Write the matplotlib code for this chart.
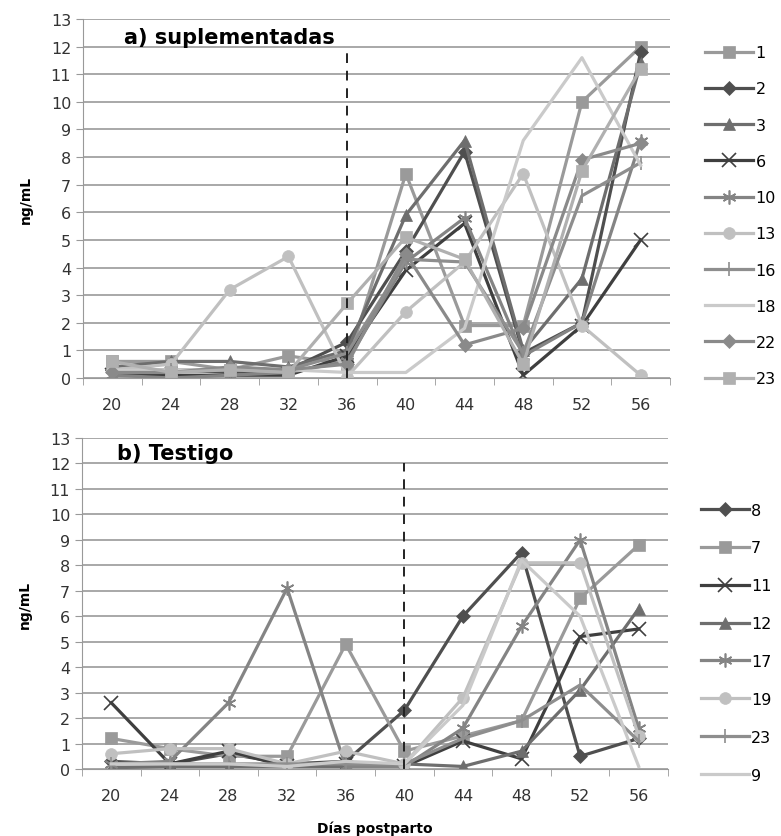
import matplotlib.pyplot as plt
import numpy as np

dias = [20, 24, 28, 32, 36, 40, 44, 48, 52, 56]

# a) suplementadas
sup_names = ['1', '2', '3', '6', '10', '13', '16', '18', '22', '23']
sup_1 = [0.6, 0.6, 0.3, 0.8, 0.5, 7.4, 1.9, 1.9, 10.0, 12.0]
sup_2 = [0.3, 0.3, 0.2, 0.3, 1.3, 4.6, 8.2, 0.9, 2.0, 11.8]
sup_3 = [0.4, 0.6, 0.6, 0.4, 1.0, 5.9, 8.6, 1.0, 3.6, 11.4]
sup_6 = [0.1, 0.1, 0.1, 0.1, 0.8, 3.9, 5.6, 0.1, 1.9, 5.0]
sup_10 = [0.1, 0.0, 0.1, 0.2, 0.6, 4.2, 5.8, 0.8, 2.0, 8.6]
sup_13 = [0.3, 0.5, 3.2, 4.4, 0.05, 2.4, 4.2, 7.4, 1.9, 0.1]
sup_16 = [0.3, 0.3, 0.3, 0.3, 0.9, 4.3, 4.2, 0.9, 6.6, 7.8]
sup_18 = [0.3, 0.3, 0.3, 0.3, 0.2, 0.2, 1.8, 8.6, 11.6, 7.7]
sup_22 = [0.2, 0.2, 0.4, 0.3, 0.5, 4.5, 1.2, 1.8, 7.9, 8.5]
sup_23 = [0.6, 0.2, 0.3, 0.2, 2.7, 5.1, 4.3, 0.5, 7.5, 11.2]

# b) Testigo
tes_names = ['8', '7', '11', '12', '17', '19', '23', '9']
tes_8 = [0.3, 0.2, 0.6, 0.2, 0.3, 2.3, 6.0, 8.5, 0.5, 1.2]
tes_7 = [1.2, 0.8, 0.5, 0.5, 4.9, 0.7, 1.3, 1.9, 6.7, 8.8]
tes_11 = [2.6, 0.2, 0.7, 0.1, 0.2, 0.1, 1.1, 0.4, 5.2, 5.5]
tes_12 = [0.05, 0.1, 0.1, 0.1, 0.1, 0.2, 0.1, 0.7, 3.1, 6.3]
tes_17 = [0.2, 0.3, 2.6, 7.1, 0.1, 0.1, 1.6, 5.6, 9.0, 1.6]
tes_19 = [0.6, 0.8, 0.8, 0.2, 0.7, 0.2, 2.8, 8.1, 8.1, 1.3]
tes_23 = [0.2, 0.2, 0.2, 0.2, 0.2, 0.2, 1.2, 1.9, 3.3, 1.1]
tes_9 = [0.2, 0.2, 0.2, 0.1, 0.3, 0.2, 2.5, 8.2, 6.0, 0.1]

sup_data = [sup_1, sup_2, sup_3, sup_6, sup_10, sup_13, sup_16, sup_18, sup_22, sup_23]
sup_style = [('#9a9a9a', 's'), ('#4f4f4f', 'D'), ('#6e6e6e', '^'), ('#3f3f3f', 'x'),
             ('#848484', (6, 2, 0)), ('#c0c0c0', 'o'), ('#8e8e8e', '|'), ('#cacaca', None),
             ('#8a8a8a', 'D'), ('#b0b0b0', 's')]
tes_data = [tes_8, tes_7, tes_11, tes_12, tes_17, tes_19, tes_23, tes_9]
tes_style = [('#4f4f4f', 'D'), ('#9a9a9a', 's'), ('#3f3f3f', 'x'), ('#6e6e6e', '^'),
             ('#848484', (6, 2, 0)), ('#c0c0c0', 'o'), ('#8e8e8e', '|'), ('#cacaca', None)]

fig = plt.figure(figsize=(7.81, 8.37), dpi=100)
ax1 = fig.add_axes([83/781, 1-379/837, 587/781, 359/837])
ax2 = fig.add_axes([82/781, 1-770/837, 586/781, 331/837])

x = np.arange(len(dias))


def dibujar(ax, datos, estilos, nombres, linea_x, titulo, tx, ty, leg_x, leg_top, leg_sp):
    for d, (c, m), n in zip(datos, estilos, nombres):
        ms = 8.5
        if m == 'x' or m == (6, 2, 0):
            ms = 10
        if m == 'D':
            ms = 7
        if m == '|':
            ms = 10
        ax.plot(x, d, color=c, marker=m, markersize=ms, linewidth=2.3, label=n,
                markeredgewidth=1.2 if m in ('x', '|', (6, 2, 0)) else 0.5,
                markeredgecolor=c)
    ax.plot([linea_x, linea_x], [0, 12], color='#222222', linestyle=(0, (5, 4)), linewidth=1.4)
    ax.set_xlim(-0.5, 9.5)
    ax.set_ylim(0, 13)
    ax.set_yticks(range(0, 14))
    ax.set_xticks(x)
    ax.set_xticklabels(dias)
    ax.set_xticks(np.arange(-0.5, 10, 1), minor=True)
    ax.tick_params(axis='x', which='major', length=0, pad=14, labelsize=11.5, colors='#333333')
    ax.tick_params(axis='x', which='minor', length=5, color='#999999')
    ax.tick_params(axis='y', length=5, labelsize=11.5, colors='#333333')
    ax.tick_params(axis='y', color='#999999')
    ax.grid(axis='y', color='#9a9a9a', linewidth=1.2)
    ax.set_axisbelow(True)
    for s in ['top', 'right']:
        ax.spines[s].set_visible(False)
    ax.spines['left'].set_color('#999999')
    ax.spines['bottom'].set_color('#999999')
    ax.set_ylabel('ng/mL', fontweight='bold', fontsize=10)
    ax.yaxis.set_label_coords(-0.085, 0.5)
    ax.text(tx, ty, titulo, fontweight='bold', fontsize=15, va='center')
    ax.legend(loc='upper left', bbox_to_anchor=(leg_x, leg_top), frameon=False,
              fontsize=11.5, handlelength=3.0, handletextpad=0.15, labelspacing=leg_sp,
              borderaxespad=0)


dibujar(ax1, sup_data, sup_style, sup_names, 4, 'a) suplementadas', 0.2, 12.35, 1.049, 0.945, 1.33)
dibujar(ax2, tes_data, tes_style, tes_names, 5, 'b) Testigo', 0.1, 12.4, 1.045, 0.824, 1.43)
ax2.set_xlabel('Días postparto', fontweight='bold', fontsize=10)
ax2.xaxis.set_label_coords(0.5, -0.155)

fig.savefig('out.png', dpi=100)
